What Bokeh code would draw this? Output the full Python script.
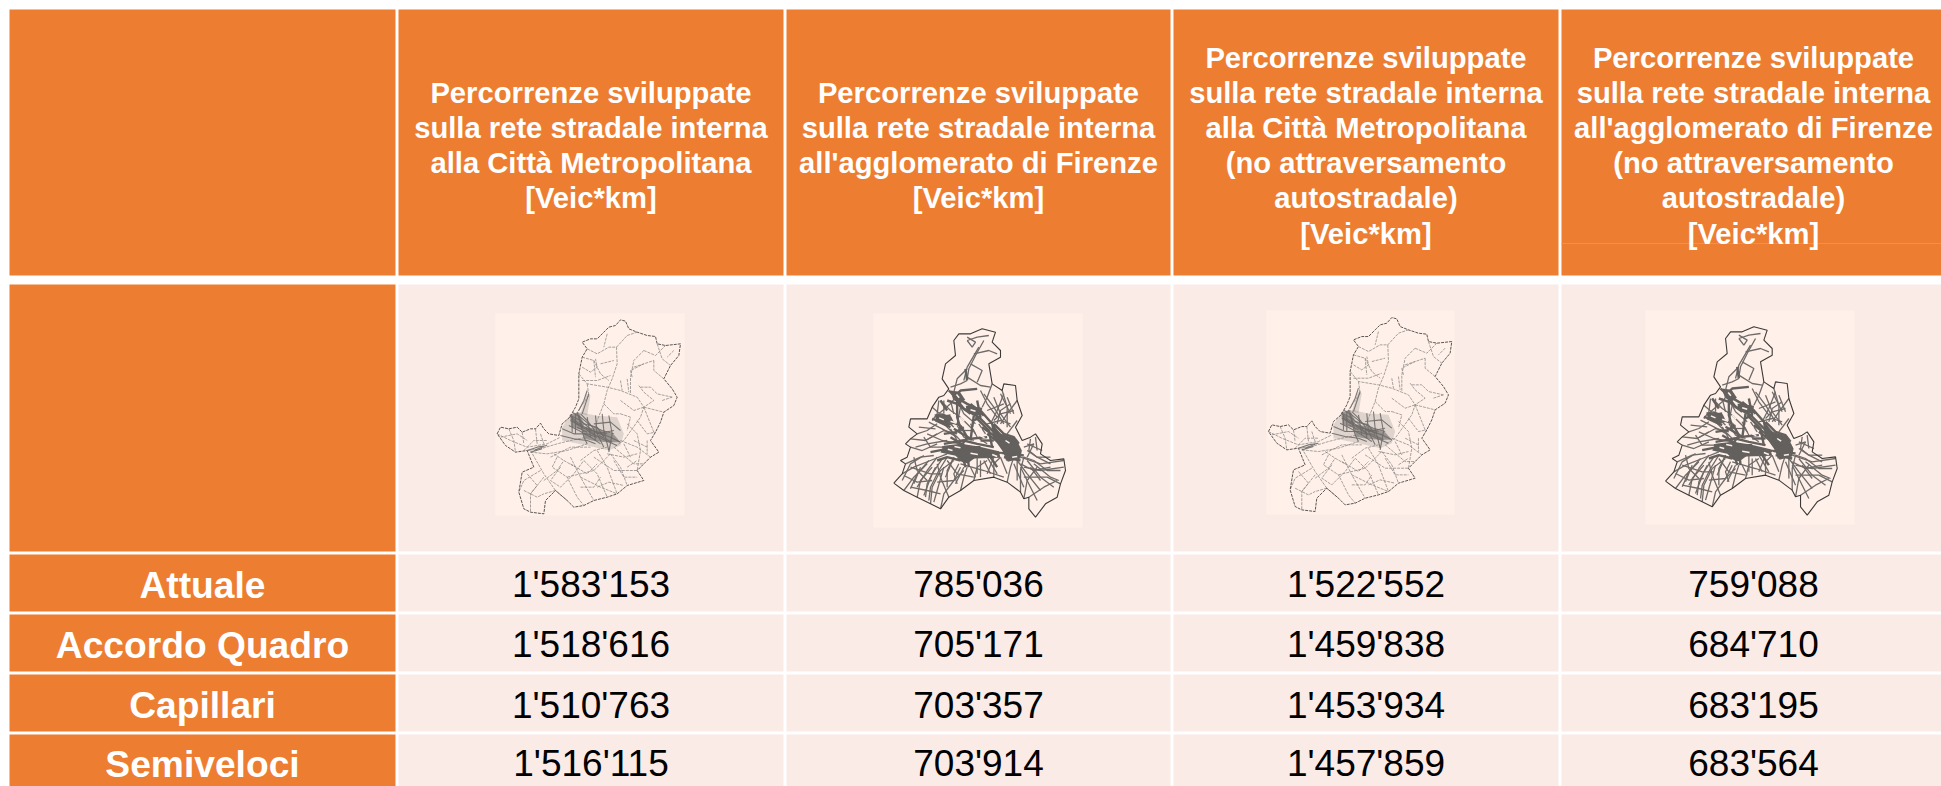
from bokeh.plotting import figure
from bokeh.models import ColumnDataSource, Range1d
from bokeh.core.properties import value
from bokeh.embed import file_html
from bokeh.resources import INLINE

# ---------- table content ----------
ROW_LABELS = ["Attuale", "Accordo Quadro", "Capillari", "Semiveloci"]
COL_1 = ["1'583'153", "1'518'616", "1'510'763", "1'516'115"]
COL_2 = ["785'036", "705'171", "703'357", "703'914"]
COL_3 = ["1'522'552", "1'459'838", "1'453'934", "1'457'859"]
COL_4 = ["759'088", "684'710", "683'195", "683'564"]
HEAD_1 = ["Percorrenze sviluppate", "sulla rete stradale interna", "alla Città Metropolitana", "[Veic*km]"]
HEAD_2 = ["Percorrenze sviluppate", "sulla rete stradale interna", "all'agglomerato di Firenze", "[Veic*km]"]
HEAD_3 = ["Percorrenze sviluppate", "sulla rete stradale interna", "alla Città Metropolitana",
          "(no attraversamento", "autostradale)", "[Veic*km]"]
HEAD_4 = ["Percorrenze sviluppate", "sulla rete stradale interna", "all'agglomerato di Firenze",
          "(no attraversamento", "autostradale)", "[Veic*km]"]

# ---------- road maps (units: 1/3 px) ----------
CM_OUTLINE = [(50,400),(60,380),(85,385),(110,380),(125,395),(150,385),(165,385),(180,368),(190,385),(205,400),
              (235,405),(245,370),(268,350),(285,320),(295,295),(295,220),(305,170),(320,145),(305,125),(330,115),
              (350,115),(370,95),(385,80),(405,75),(420,58),(435,62),(445,85),(470,95),(500,105),(525,108),(530,130),
              (555,135),(600,130),(595,165),(570,195),(550,235),(575,265),(590,290),(580,315),(550,335),(540,365),
              (525,395),(510,420),(535,455),(510,470),(490,490),(470,510),(490,540),(440,555),(410,580),(380,590),
              (340,600),(310,615),(280,620),(260,600),(225,570),(195,600),(190,640),(150,635),(130,625),(115,575),
              (125,515),(160,500),(140,450),(105,455),(75,435),(50,400)]
CM_ROADS = [
    [(295,220),(320,250),(380,260),(420,270),(470,290),(490,320),(480,350),(455,385),(430,420),(400,440)],
    [(408,140),(410,190),(395,235),(380,270),(370,310),(350,360),(340,400)],
    [(320,145),(350,160),(385,140),(408,140),(440,105),(470,95)],
    [(490,150),(460,180),(450,230),(450,280)], [(490,150),(525,165),(555,135)],
    [(520,180),(520,210),(550,235)], [(460,200),(520,180)],
    [(480,260),(510,260),(530,280),(575,290)], [(490,320),(530,330),(550,335)],
    [(320,250),(325,285),(300,320),(285,345)], [(305,170),(340,180),(360,220),(385,240)],
    [(340,180),(345,230)], [(440,235),(445,275)], [(420,240),(425,270)], [(380,100),(370,140)],
    [(390,460),(420,500),(440,555)], [(350,450),(380,500),(410,580)], [(310,480),(350,520),(380,590)],
    [(270,470),(300,530),(340,600)], [(230,470),(215,500),(260,530),(290,590),(310,615)],
    [(150,450),(190,520),(225,570),(260,600)], [(180,510),(130,540),(115,575)],
    [(190,530),(150,580),(150,635)], [(225,570),(190,580)],
    [(240,500),(210,540),(240,560),(280,520),(310,480)], [(260,530),(340,510),(390,460)],
    [(300,530),(360,560),(410,580)], [(340,470),(400,510),(470,510)],
    [(50,400),(90,420),(140,440),(200,430),(240,410)], [(85,385),(100,420),(105,455)],
    [(125,395),(130,430)], [(165,385),(170,430)], [(140,450),(180,445),(230,430),(270,420),(320,410)],
    [(150,455),(200,460),(260,450),(320,430)], [(210,470),(270,440),(330,440)],
    [(400,440),(460,490),(490,490)], [(420,420),(470,440),(510,470)], [(470,360),(500,400),(525,395)],
    [(440,370),(470,400),(480,450),(470,510)], [(490,320),(520,395)], [(420,340),(450,350),(440,390)],
    [(370,310),(400,340),(420,340)], [(300,480),(340,450),(380,440)],
    [(305,200),(330,215),(350,200),(345,175)], [(305,240),(350,240),(390,225)], [(360,190),(400,180)],
    [(455,230),(450,210),(490,190)], [(530,130),(545,175),(570,195)], [(580,150),(560,170)],
    [(475,255),(490,275),(520,300),(490,320)], [(545,300),(575,290)], [(420,300),(460,330),(490,320)],
    [(130,450),(160,420),(200,420)], [(60,410),(110,400),(140,420)], [(180,400),(190,430)],
    [(130,570),(170,590),(190,580)], [(140,520),(170,555),(150,580)], [(190,540),(230,510),(250,480)],
    [(300,560),(340,560),(360,530)], [(270,490),(320,520),(350,490)], [(220,460),(250,480),(285,500)],
    [(380,460),(430,470),(470,460)], [(440,500),(470,480)], [(500,420),(500,460)], [(430,430),(450,470)],
    [(460,420),(500,440)], [(400,480),(430,530),(470,530)], [(350,560),(385,545),(430,555)],
]
CM_CORE = [
    [(268,345),(290,365),(320,385),(350,395),(390,410),(420,425)],
    [(270,360),(300,375),(335,400),(375,420),(410,435)],
    [(275,335),(300,350),(330,375),(365,390),(400,400)],
    [(290,335),(300,370),(310,410),(320,430)], [(265,375),(295,390),(330,410),(360,430)],
    [(245,385),(280,400),(320,400),(350,410)], [(240,405),(280,415),(320,420),(345,430)],
    [(300,340),(320,360),(340,385),(345,420)], [(275,350),(275,395)], [(285,340),(285,400)],
    [(295,345),(310,395)], [(320,350),(330,410)], [(345,345),(350,400),(370,440)],
    [(365,340),(370,390),(385,450)], [(385,345),(395,400),(385,455)], [(340,370),(390,365),(420,390)],
    [(310,370),(350,380)], [(350,400),(400,390)], [(330,390),(380,400)], [(350,380),(370,410)],
    [(315,380),(345,405)], [(300,360),(335,390)], [(280,365),(310,385)], [(270,345),(300,360)],
    [(272,355),(295,375)], [(290,380),(320,395)], [(340,395),(375,405)], [(355,405),(395,425)],
    [(305,340),(315,310),(325,280)], [(295,330),(310,300),(320,270)], [(140,450),(170,440),(200,435)],
    [(150,455),(185,445)], [(160,450),(190,438)],
]
CM_MASSES = [
    [(268,342),(295,335),(312,372),(300,388),(272,378)],
    [(310,378),(345,385),(400,402),(420,425),(380,425),(345,422),(310,415)],
]
CM_SHADE = [
    [(245,380),(268,345),(300,335),(345,345),(410,350),(430,400),(420,435),(385,450),(320,435),(245,420)],
    [(300,340),(318,280),(330,285),(320,345)],
]

AG_OUTLINE = [(100,548),(125,520),(135,490),(120,480),(140,470),(150,440),(135,430),(150,415),(170,400),(145,380),
              (150,355),(200,355),(215,320),(235,290),(250,285),(265,265),(245,235),(255,190),(285,165),(280,120),
              (295,100),(330,100),(365,85),(405,95),(395,125),(420,150),(420,170),(385,190),(395,250),(425,270),
              (430,250),(465,255),(470,300),(485,345),(465,380),(485,420),(510,410),(525,400),(545,430),(540,460),
              (570,480),(610,475),(615,510),(600,550),(590,590),(555,610),(525,650),(505,625),(505,590),(490,595),
              (480,575),(440,545),(400,530),(340,540),(300,570),(265,590),(240,625),(210,610),(170,590),(130,570),
              (100,548)]
AG_ROADS = [
    [(320,235),(325,205),(345,165),(370,120)], [(310,240),(320,200),(355,140)], [(330,190),(365,210),(350,245)],
    [(320,120),(350,110),(385,105)], [(340,160),(385,150),(410,160)], [(280,275),(290,235),(320,205)],
    [(320,230),(360,255),(390,260)], [(270,260),(300,250),(320,240)],
    [(170,400),(200,390),(230,370)], [(150,415),(195,420),(230,400)], [(195,420),(250,390),(290,400)],
    [(150,440),(185,450),(230,430)], [(135,490),(180,470),(220,465)], [(125,520),(160,500),(210,480),(260,460)],
    [(130,570),(160,530),(200,490)], [(170,590),(180,540),(215,500)], [(210,610),(215,560),(240,510),(280,480)],
    [(240,625),(250,580),(280,540),(310,510)], [(265,590),(240,530),(230,490)], [(300,570),(310,530),(320,500)],
    [(150,560),(200,570),(240,580)], [(340,540),(350,500),(380,480)], [(400,530),(400,490),(420,470)],
    [(230,545),(280,540),(300,500)], [(160,470),(170,510),(200,540)],
    [(440,545),(450,500),(460,470)], [(480,575),(480,510),(490,470)], [(490,595),(500,540),(530,500)],
    [(505,590),(550,560),(590,540)], [(490,500),(540,510),(610,500)], [(480,470),(540,490),(610,480)],
    [(490,530),(560,530),(600,550)], [(470,480),(500,520),(540,570)], [(500,450),(530,470),(570,490)],
    [(510,415),(505,450),(530,470)], [(525,410),(530,450)], [(490,440),(520,430)],
    [(470,300),(440,340),(420,370)], [(460,330),(420,340),(400,360)], [(430,280),(410,330),(390,370)],
    [(395,250),(380,290),(365,320)], [(425,270),(440,320),(440,380)], [(470,360),(440,400)],
    [(360,270),(380,310),(410,350)], [(300,270),(270,310),(235,340)], [(240,300),(270,330),(300,350)],
    [(215,320),(250,350),(280,380)], [(250,370),(300,420),(360,410)], [(200,400),(245,420),(300,430)],
    [(330,370),(350,410),(380,430)], [(300,390),(340,390)], [(260,480),(290,520),(340,530)],
    [(370,480),(390,520)], [(420,470),(440,520)], [(280,470),(255,530)], [(350,470),(350,520)],
    [(380,370),(420,360),(450,370)], [(300,320),(290,370)],
    [(230,470),(200,510),(170,560)], [(245,475),(215,520),(190,585)], [(260,470),(235,510),(210,560),(205,600)],
    [(205,480),(170,520),(150,565)], [(190,465),(150,490),(125,540)], [(280,470),(260,510),(260,560)],
    [(295,490),(280,520),(290,550)], [(310,500),(285,550)], [(180,500),(160,550)], [(225,500),(200,550),(195,590)],
    [(250,500),(230,570),(220,605)], [(130,525),(170,545),(215,540)], [(150,500),(210,520),(245,520)],
    [(330,500),(345,530)], [(360,480),(360,530)], [(380,470),(410,520)], [(400,470),(380,520)],
    [(300,490),(370,510),(430,530)],
    [(490,470),(520,480),(560,510),(600,510)], [(480,490),(520,510),(570,500)], [(500,480),(540,530),(580,560)],
    [(480,500),(510,560),(530,600)], [(470,470),(470,540)], [(460,490),(490,560)], [(510,500),(540,540)],
    [(520,490),(570,530),(595,540)], [(530,470),(570,470)], [(500,430),(545,450)], [(520,430),(500,470)],
    [(400,290),(420,340),(450,380)], [(420,280),(450,340)], [(370,280),(400,320),(430,370)], [(440,290),(460,340)],
    [(380,330),(430,310)], [(450,310),(420,330),(410,370)],
    [(165,440),(200,430),(260,420)], [(190,410),(210,440),(250,440)], [(175,380),(225,385)],
    [(205,365),(245,385),(290,410)], [(235,300),(230,340),(215,360)], [(250,300),(250,340)], [(270,300),(280,340)],
    [(290,300),(310,340),(345,370)], [(300,350),(330,380),(345,400)], [(290,375),(310,410),(340,420)],
    [(355,370),(375,400)], [(270,385),(290,420)], [(320,110),(345,125),(335,140),(320,120)],
]
AG_CORE = [
    [(225,345),(260,360),(300,375)], [(215,355),(265,370)],
    [(265,270),(285,290),(320,310),(360,330),(395,370),(420,410),(445,445),(480,465)],
    [(275,280),(310,325),(355,350),(400,395),(440,430)], [(330,310),(370,345)], [(320,320),(365,325)],
    [(245,440),(290,445),(350,450),(400,455),(445,460),(490,465)], [(210,455),(260,445),(310,440),(360,440)],
    [(250,430),(310,420),(350,430),(400,440)], [(290,475),(320,485),(340,470),(390,465)],
    [(400,370),(430,400),(460,410),(475,430)], [(430,440),(440,480)], [(380,400),(420,430),(445,470)],
    [(300,440),(315,500)], [(320,450),(325,500)], [(240,350),(270,345)], [(280,290),(300,270),(350,265)],
    [(320,240),(315,205)], [(430,450),(470,450)], [(260,300),(290,310),(330,340)], [(350,300),(360,350),(340,360)],
    [(225,360),(270,380)], [(270,410),(320,440)], [(360,420),(400,420)], [(430,470),(480,480)],
    [(300,375),(320,410),(300,440)], [(345,350),(385,390),(395,440)], [(280,385),(330,415),(380,410)],
    [(250,400),(285,395),(310,380)], [(290,300),(290,350),(300,385)], [(340,345),(330,420)],
    [(365,380),(400,405)], [(240,300),(260,330)], [(300,480),(260,470),(230,480)], [(390,470),(410,500)],
]
AG_MASSES = [
    [(222,342),(245,338),(272,348),(282,370),(258,378),(228,362)],
    [(270,270),(298,274),(314,298),(298,310),(278,298)],
    [(316,316),(342,316),(366,342),(345,346),(318,334)],
    [(392,370),(422,400),(466,414),(484,450),(480,474),(442,484),(425,450),(398,412)],
    [(250,436),(300,430),(355,438),(415,452),(420,472),(340,474),(310,488),(285,466),(240,456)],
]
AG_GAPS = [  # light holes left between the roads
    [(338,382),(364,386)], [(270,362),(288,368)], [(300,350),(312,362)], [(360,405),(372,412)],
    [(282,438),(300,442)], [(330,458),(352,462)], [(395,462),(410,468)], [(435,420),(447,428)],
    [(236,352),(250,358)], [(288,282),(296,292)], [(455,470),(470,468)], [(262,446),(276,450)],
    [(420,460),(428,472)], [(330,328),(345,332)],
]

# ---------- page frame ----------
W, H = 1941, 786
ORANGE, PINK, PANEL, MAP_DARK, MAP_MID = "#ED7D31", "#FBEBE7", "#FFF1EA", "#63605E", "#6E6A68"
COLS = [(9, 395), (398, 783), (786, 1170), (1173, 1558), (1561, 1945)]
BANDS = [(9, 275), (284, 551), (554, 611), (614, 671), (674, 731), (734, 790)]
LINE_H = 35.2
HEAD_Y = 145
ROW_Y = [584, 644, 704.5, 763]
MAP_SLOTS = [  # panel (x0, x1, y0, y1), map origin, map kind
    ((495, 684, 313, 515), (480, 300), "cm"),
    ((873, 1082, 313, 527), (860, 300), "ag"),
    ((1266, 1454, 310, 514), (1251.3, 297.7), "cm"),
    ((1645, 1854, 310, 524), (1631.7, 298), "ag"),
]

p = figure(width=W, height=H, x_range=Range1d(0, W), y_range=Range1d(H, 0),
           output_backend="svg", toolbar_location=None, min_border=0, outline_line_color=None,
           background_fill_color="white", border_fill_color="white")
p.axis.visible = False
p.grid.visible = False

# cells
cx0, cx1, cy0, cy1, cc = [], [], [], [], []
for i, (a, b) in enumerate(COLS):
    for j, (t, u) in enumerate(BANDS):
        cx0.append(a); cx1.append(b); cy0.append(t); cy1.append(u)
        cc.append(ORANGE if i == 0 or j == 0 else PINK)
p.quad(left=cx0, right=cx1, top=cy0, bottom=cy1, fill_color=cc, line_color=None)
p.segment(x0=[COLS[4][0]], x1=[COLS[4][1]], y0=[243], y1=[243], line_color="#F08F4E", line_width=1)

# map panels and networks
def place(paths, o):
    return [[o[0] + x / 3 for x, _ in q] for q in paths], [[o[1] + y / 3 for _, y in q] for q in paths]

for (x0, x1, y0, y1), origin, kind in MAP_SLOTS:
    p.quad(left=[x0], right=[x1], top=[y0], bottom=[y1], fill_color=PANEL, line_color=None)
    if kind == "cm":
        xs, ys = place(CM_SHADE, origin)
        p.patches(xs, ys, fill_color=MAP_MID, fill_alpha=0.22, line_color=None)
        xs, ys = place(CM_MASSES, origin)
        p.patches(xs, ys, fill_color=MAP_MID, fill_alpha=0.6, line_color=None)
        xs, ys = place(CM_ROADS, origin)
        p.multi_line(xs, ys, line_color="#8A8684", line_width=0.9, line_dash="3 1", line_alpha=0.85)
        xs, ys = place([CM_OUTLINE], origin)
        p.multi_line(xs, ys, line_color="#5A5654", line_width=1.0, line_dash="3 1")
        xs, ys = place(CM_CORE, origin)
        p.multi_line(xs, ys, line_color=MAP_MID, line_width=1.1, line_alpha=0.9)
    else:
        xs, ys = place(AG_MASSES, origin)
        p.patches(xs, ys, fill_color=MAP_DARK, line_color=None)
        xs, ys = place(AG_ROADS, origin)
        p.multi_line(xs, ys, line_color=MAP_MID, line_width=1.3)
        xs, ys = place(AG_CORE, origin)
        p.multi_line(xs, ys, line_color=MAP_DARK, line_width=2.4)
        xs, ys = place(AG_GAPS, origin)
        p.multi_line(xs, ys, line_color=PANEL, line_width=1.5)
        xs, ys = place([AG_OUTLINE], origin)
        p.multi_line(xs, ys, line_color="#3C3A38", line_width=1.1)

# texts
def centre(i):
    return (COLS[i][0] + COLS[i][1]) / 2

def put(xs, ys, texts, color, size, style):
    src = ColumnDataSource(dict(x=xs, y=ys, t=texts))
    p.text("x", "y", text="t", source=src, text_color=color, text_font=value("Liberation Sans"),
           text_font_size=size, text_font_style=style, text_align="center", text_baseline="middle")

for i, lines in enumerate([HEAD_1, HEAD_2, HEAD_3, HEAD_4], start=1):
    n = len(lines)
    ys = [HEAD_Y + (k - (n - 1) / 2) * LINE_H for k in range(n)]
    put([centre(i)] * n, ys, lines, "white", "29.2px", "bold")

put([centre(0)] * 4, ROW_Y, ROW_LABELS, "white", "37.2px", "bold")
for i, col in enumerate([COL_1, COL_2, COL_3, COL_4], start=1):
    put([centre(i)] * 4, ROW_Y, col, "black", "37px", "normal")

open("out.html", "w").write(file_html(p, INLINE))
